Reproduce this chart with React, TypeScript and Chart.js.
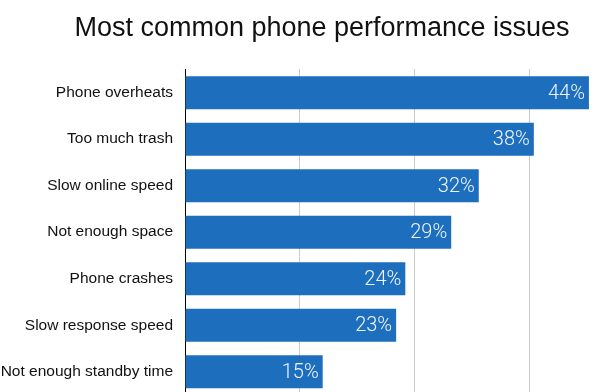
import React, { useEffect, useRef } from "react";
import { Chart, registerables } from "chart.js";

Chart.register(...registerables);

const TITLE = "Most common phone performance issues";
const categories = [
  "Phone overheats",
  "Too much trash",
  "Slow online speed",
  "Not enough space",
  "Phone crashes",
  "Slow response speed",
  "Not enough standby time",
];
const values = [44, 38, 32, 29, 24, 23, 15];
const xTicks = [0, 12.5, 25, 37.5, 50];

const BAR_COLOR = "#1e6ebe";
const FONT = "'Liberation Sans', Arial, Helvetica, sans-serif";

const valueLabels = {
  id: "valueLabels",
  afterDatasetsDraw(chart: any) {
    const ctx = chart.ctx;
    const meta = chart.getDatasetMeta(0);
    ctx.save();
    ctx.font = "300 20px Roboto, 'Liberation Sans', sans-serif";
    ctx.fillStyle = "rgba(255,255,255,0.93)";
    ctx.textAlign = "right";
    ctx.textBaseline = "middle";
    meta.data.forEach((el: any, i: number) => {
      ctx.fillText(values[i] + "%", el.x - 4, el.y + 1);
    });
    ctx.restore();
  },
};

export default function App() {
  const ref = useRef<HTMLCanvasElement | null>(null);
  useEffect(() => {
    if (!ref.current) return;
    const chart = new Chart(ref.current, {
      type: "bar",
      data: {
        labels: categories,
        datasets: [
          {
            data: values,
            backgroundColor: BAR_COLOR,
            borderWidth: 0,
            categoryPercentage: 1,
            barPercentage: 0.71,
          },
        ],
      },
      options: {
        indexAxis: "y",
        animation: false,
        responsive: false,
        devicePixelRatio: 1,
        layout: { padding: { left: 0, right: 0, top: 0, bottom: 5 } },
        plugins: {
          legend: { display: false },
          tooltip: { enabled: false },
          title: {
            display: true,
            text: TITLE,
            color: "#111",
            font: { family: FONT, size: 27, weight: "normal" },
            padding: { top: 12, bottom: 25 },
          },
        },
        scales: {
          x: {
            min: 0,
            max: 50,
            afterBuildTicks: (scale: any) => {
              scale.ticks = xTicks.map((v) => ({ value: v }));
            },
            ticks: { display: false },
            border: { display: false, dash: [1, 1] },
            grid: {
              color: "#999999",
              lineWidth: 1,
              drawTicks: false,
            },
          },
          y: {
            afterFit: (scale: any) => {
              scale.width = 185;
              scale.paddingTop = 0;
              scale.paddingBottom = 0;
            },
            ticks: {
              color: "#111",
              padding: 12,
              font: { family: FONT, size: 15.5 },
            },
            grid: { display: false, drawTicks: false },
            border: { display: true, color: "#000", width: 1 },
          },
        },
      },
      plugins: [valueLabels],
    });
    return () => chart.destroy();
  }, []);
  return (
    <div
      style={{
        position: "fixed",
        left: 0,
        top: 0,
        width: 616,
        height: 392,
        overflow: "hidden",
        background: "#fff",
      }}
    >
      <canvas ref={ref} width={644} height={400} style={{ width: 644, height: 400 }} />
    </div>
  );
}
